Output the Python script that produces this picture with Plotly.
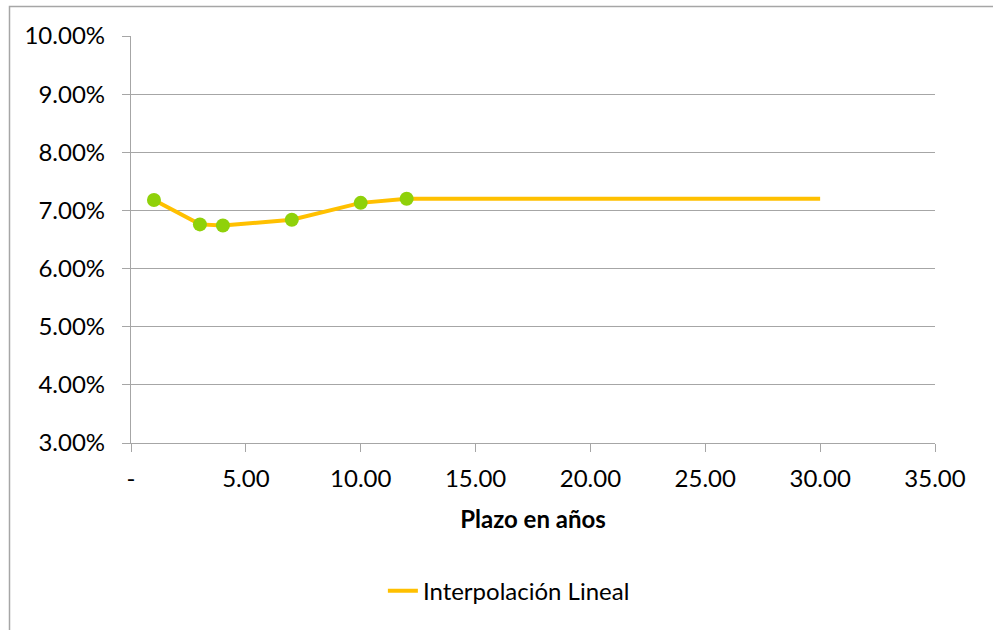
import plotly.graph_objects as go

# Data
plazo_puntos = [1, 3, 4, 7, 10, 12]
tasa_puntos = [0.0718, 0.0676, 0.0674, 0.0684, 0.0713, 0.0720]
plazo_linea = [1, 3, 4, 7, 10, 12, 30]
tasa_linea = [0.0718, 0.0676, 0.0674, 0.0684, 0.0713, 0.0720, 0.0720]

x_tickvals = [0, 5, 10, 15, 20, 25, 30, 35]
x_ticktext = ["-", "5.00", "10.00", "15.00", "20.00", "25.00", "30.00", "35.00"]
y_tickvals = [0.03, 0.04, 0.05, 0.06, 0.07, 0.08, 0.09, 0.10]
y_ticktext = ["3.00%", "4.00%", "5.00%", "6.00%", "7.00%", "8.00%", "9.00%", "10.00%"]

FONT = "Lato"
GRID = "#A6A6A6"

fig = go.Figure()
fig.add_trace(go.Scatter(
    x=plazo_linea, y=tasa_linea, mode="lines",
    name="Interpolación Lineal",
    line=dict(color="#FFC000", width=4),
))
fig.add_trace(go.Scatter(
    x=plazo_puntos, y=tasa_puntos, mode="markers",
    showlegend=False,
    marker=dict(color="#8FD10A", size=14),
))

fig.update_layout(
    width=993, height=630,
    margin=dict(l=131, r=58, t=36, b=187),
    paper_bgcolor="white", plot_bgcolor="white",
    font=dict(family=FONT, size=24, color="#000000"),
    xaxis=dict(
        range=[0, 35], tickvals=x_tickvals, ticktext=x_ticktext,
        showgrid=False, zeroline=False,
        showline=True, linecolor=GRID, linewidth=1.3,
        ticks="outside", ticklen=8, tickcolor=GRID, tickwidth=1.3,
        ticklabelstandoff=6,
        title=dict(text="<b>Plazo en años</b>", font=dict(family=FONT, size=24), standoff=20),
    ),
    yaxis=dict(
        range=[0.03, 0.10], tickvals=y_tickvals, ticktext=y_ticktext,
        showgrid=True, gridcolor=GRID, gridwidth=1.3,
        zeroline=False,
        showline=True, linecolor=GRID, linewidth=1.3,
        ticks="outside", ticklen=8, tickcolor=GRID, tickwidth=1.3,
        ticklabelstandoff=12,
    ),
    legend=dict(
        orientation="h", x=0.47, xanchor="center", y=-0.364, yanchor="middle",
        font=dict(family=FONT, size=24), bgcolor="rgba(0,0,0,0)",
    ),
    shapes=[dict(
        type="rect", xref="paper", yref="paper",
        x0=(9.5 - 131) / 804, x1=(1100 - 131) / 804,
        y0=(443 - 700) / 407, y1=(443 - 6.5) / 407,
        line=dict(color="#A6A6A6", width=1.5), fillcolor="rgba(0,0,0,0)",
        layer="below",
    )],
)

fig.write_html(
    "out.html",
    config={"displayModeBar": False},
    post_script="document.body.style.margin='0';document.body.style.overflow='hidden';",
)
